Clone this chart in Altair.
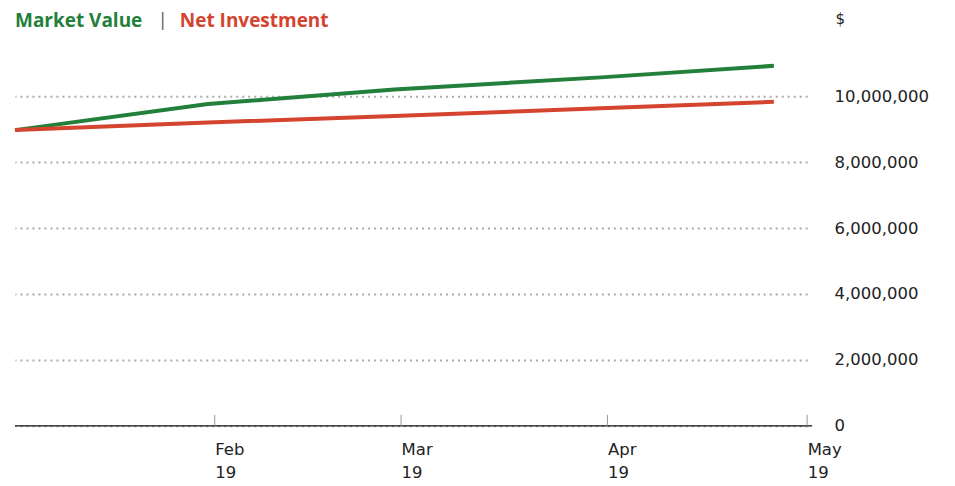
import altair as alt
import pandas as pd

# ---- data ----
dates = ["2019-01-02", "2019-01-31", "2019-02-28", "2019-03-31", "2019-04-26"]
market_value = [8970000, 9760000, 10200000, 10570000, 10920000]
net_investment = [8970000, 9200000, 9400000, 9630000, 9830000]
series_names = ["Market Value", "Net Investment"]
series_colors = ["#23803A", "#D4442F"]
month_ticks = ["2019-02-01", "2019-03-01", "2019-04-01", "2019-05-01"]
y_ticks = [0, 2000000, 4000000, 6000000, 8000000, 10000000]
x_domain = ["2019-01-02", "2019-05-01"]
y_domain = [0, 11000000]

W, H = 793, 363
FONT = "DejaVu Sans"


def ms(s):
    return int(pd.Timestamp(s, tz="UTC").value // 10**6)


df = pd.DataFrame({
    "date": dates * 2,
    "value": market_value + net_investment,
    "series": [series_names[0]] * len(dates) + [series_names[1]] * len(dates),
})

x_scale = alt.Scale(type="utc", domain=[ms(d) for d in x_domain])

lines = alt.Chart(df).mark_line(strokeWidth=4, strokeCap="butt").encode(
    x=alt.X("date:T", scale=x_scale,
            axis=alt.Axis(values=[ms(d) for d in month_ticks],
                          labelExpr="[utcFormat(datum.value,'%b'), utcFormat(datum.value,'%y')]",
                          labelAlign="left", labelBaseline="top", ticks=False, grid=False,
                          domain=False,
                          labelFont=FONT, labelFontSize=16.5, labelColor="#222",
                          labelPadding=16, labelLineHeight=23,
                          labelFlush=False, labelOverlap=False, title=None)),
    y=alt.Y("value:Q", scale=alt.Scale(domain=y_domain, nice=False),
            axis=alt.Axis(orient="right", values=y_ticks, format=",d",
                          grid=True, gridDash=[2, 4], gridColor="#aaa", gridWidth=2,
                          domain=False, ticks=False, labelPadding=27,
                          labelFont=FONT, labelFontSize=16.5, labelColor="#222",
                          title="$", titleAngle=0, titleX=28, titleY=-45,
                          titleAlign="left", titleBaseline="middle",
                          titleFont=FONT, titleFontWeight="normal", titleFontSize=15,
                          titleColor="#222")),
    color=alt.Color("series:N", scale=alt.Scale(domain=series_names, range=series_colors),
                    legend=None),
)

axis_line = alt.Chart(pd.DataFrame({"v": [0]})).mark_rule(
    color="#111", strokeWidth=1.3
).encode(x=alt.value(0), x2=alt.value(W + 5), y=alt.value(H))

tick_marks = alt.Chart(pd.DataFrame({"date": month_ticks})).mark_rule(
    color="#999", strokeWidth=1
).encode(
    x=alt.X("date:T", scale=x_scale),
    y=alt.value(H - 11),
    y2=alt.value(H),
)

leg1 = alt.Chart(pd.DataFrame({"label": [series_names[0]]})).mark_text(
    align="left", baseline="middle", font="Open Sans", fontWeight="bold",
    fontSize=19, color=series_colors[0]
).encode(text="label:N", x=alt.value(0), y=alt.value(-42))

sep = alt.Chart(pd.DataFrame({"label": ["|"]})).mark_text(
    align="left", baseline="middle", font="Open Sans", fontSize=18, color="#555"
).encode(text="label:N", x=alt.value(143), y=alt.value(-42))

leg2 = alt.Chart(pd.DataFrame({"label": [series_names[1]]})).mark_text(
    align="left", baseline="middle", font="Open Sans", fontWeight="bold",
    fontSize=19, color=series_colors[1]
).encode(text="label:N", x=alt.value(165), y=alt.value(-42))

chart = alt.layer(lines, axis_line, tick_marks, leg1, sep, leg2).properties(
    width=W, height=H,
    padding={"left": 7, "top": 55, "right": 140, "bottom": 60},
    autosize=alt.AutoSizeParams(type="none"),
).configure_view(stroke=None)

chart.save("out.html", embed_options={"renderer": "svg", "actions": False})
